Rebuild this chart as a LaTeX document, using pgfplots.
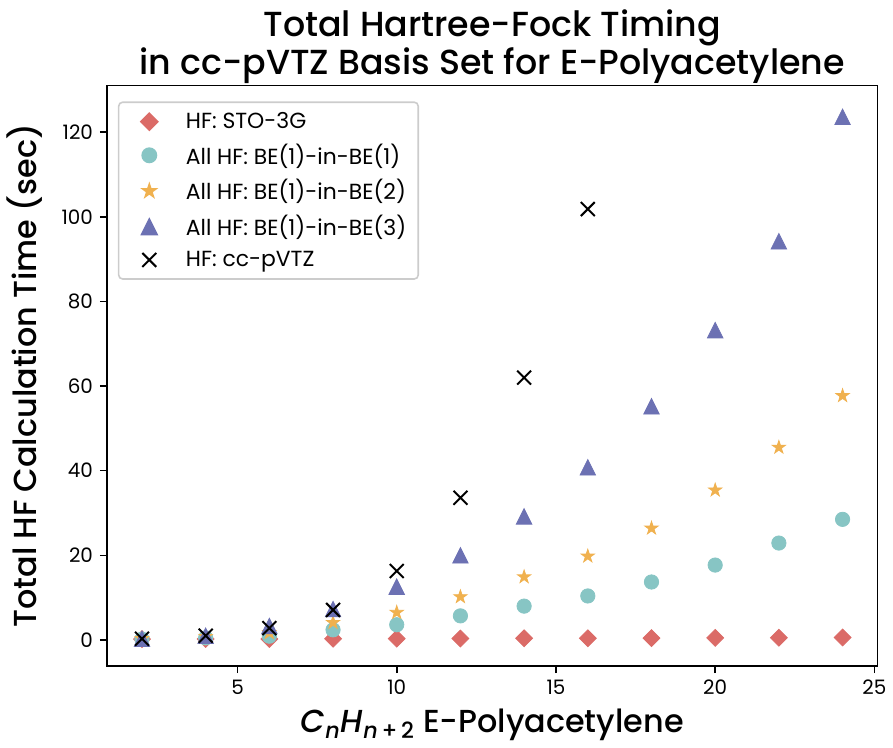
\documentclass[border=0pt]{standalone}
\usepackage{fontspec}
\setmainfont{Poppins}
\newfontfamily\medfont{Poppins Medium}
\usepackage{pgfplots}
\pgfplotsset{compat=1.18}
\definecolor{stoRed}{HTML}{DB6B67}
\definecolor{beOne}{HTML}{87C5C4}
\definecolor{beTwo}{HTML}{F0B14F}
\definecolor{beThree}{HTML}{6C71B3}

% matplotlib-like filled star and triangle
\pgfdeclareplotmark{mstar}{%
  \pgfpathmoveto{\pgfqpointpolar{90}{\pgfplotmarksize}}%
  \pgfpathlineto{\pgfqpointpolar{126}{0.382\pgfplotmarksize}}%
  \pgfpathlineto{\pgfqpointpolar{162}{\pgfplotmarksize}}%
  \pgfpathlineto{\pgfqpointpolar{198}{0.382\pgfplotmarksize}}%
  \pgfpathlineto{\pgfqpointpolar{234}{\pgfplotmarksize}}%
  \pgfpathlineto{\pgfqpointpolar{270}{0.382\pgfplotmarksize}}%
  \pgfpathlineto{\pgfqpointpolar{306}{\pgfplotmarksize}}%
  \pgfpathlineto{\pgfqpointpolar{342}{0.382\pgfplotmarksize}}%
  \pgfpathlineto{\pgfqpointpolar{18}{\pgfplotmarksize}}%
  \pgfpathlineto{\pgfqpointpolar{54}{0.382\pgfplotmarksize}}%
  \pgfpathclose\pgfusepathqfillstroke}
\pgfdeclareplotmark{mtri}{%
  \pgfpathmoveto{\pgfqpoint{0pt}{\pgfplotmarksize}}%
  \pgfpathlineto{\pgfqpoint{-\pgfplotmarksize}{-\pgfplotmarksize}}%
  \pgfpathlineto{\pgfqpoint{\pgfplotmarksize}{-\pgfplotmarksize}}%
  \pgfpathclose\pgfusepathqfillstroke}

% legend handle: mark 11pt in, text starting after 27pt
\pgfplotsset{mleg/.style={legend image code/.code={%
    \path (0pt,0pt) (27pt,0pt);
    \draw[mark repeat=2, mark phase=2, ##1] plot coordinates {(0pt,0pt) (11pt,0pt) (27pt,0pt)};}}}

\begin{document}
\begin{tikzpicture}
\begin{axis}[
    name=ax,
    scale only axis,
    width=387.5pt,
    height=292pt,
    xmin=0.9, xmax=25.1,
    ymin=-6.2, ymax=131,
    xtick={5,10,15,20,25},
    ytick={0,20,40,60,80,100,120},
    tick align=outside,
    tick pos=left,
    major tick length=3.5pt,
    tick style={black, line width=0.8pt},
    axis line style={line width=0.8pt},
    /pgf/number format/assume math mode=true,
    ticklabel style={font=\fontsize{10}{12}\selectfont},
    title={Total Hartree-Fock Timing\\ in cc-pVTZ Basis Set for E-Polyacetylene},
    title style={align=center, font=\medfont\fontsize{17.5}{17.5}\selectfont, at={(0.5,1)}, anchor=south, yshift=-8.5pt},
    xlabel={\textit{C}\textsubscript{\textit{n}}\textit{H}\textsubscript{\textit{n}\,+\,2} E-Polyacetylene},
    ylabel={Total HF Calculation Time (sec)},
    label style={font=\medfont\fontsize{16}{18}\selectfont},
    xlabel style={at={(0.5,0)}, anchor=base, yshift=-33.5pt},
    ylabel style={at={(0,0.5)}, anchor=base, yshift=35.5pt},
    legend style={at={(0.0142,0.9726)}, anchor=north west,
        font=\fontsize{11}{13}\selectfont,
        draw=black!20, line width=0.8pt, rounded corners=2pt,
        row sep=2.2pt, inner xsep=4pt, inner ysep=3pt},
    legend cell align=left,
]
% HF: STO-3G
\addplot[only marks, mleg, mark=square*, mark size=3pt, mark options={rotate=45, stoRed, draw=stoRed}] coordinates {
    (2,0.2)(4,0.25)(6,0.25)(8,0.3)(10,0.3)(12,0.35)(14,0.4)(16,0.4)(18,0.45)(20,0.5)(22,0.55)(24,0.6)
};
% All HF: BE(1)-in-BE(1)
\addplot[only marks, mleg, mark=*, mark size=3.6pt, mark options={beOne, draw=beOne}] coordinates {
    (2,0.2)(4,0.5)(6,0.9)(8,2.4)(10,3.6)(12,5.7)(14,8.0)(16,10.4)(18,13.7)(20,17.7)(22,22.9)(24,28.5)
};
% All HF: BE(1)-in-BE(2)
\addplot[only marks, mleg, mark=mstar, mark size=3.5pt, mark options={beTwo, fill=beTwo, draw=beTwo}] coordinates {
    (2,0.3)(4,0.8)(6,1.7)(8,4.1)(10,6.5)(12,10.2)(14,14.9)(16,19.8)(18,26.4)(20,35.4)(22,45.5)(24,57.7)
};
% All HF: BE(1)-in-BE(3)
\addplot[only marks, mleg, mark=mtri, mark size=3.9pt, mark options={beThree, fill=beThree, draw=beThree}] coordinates {
    (2,0.3)(4,1.0)(6,3.3)(8,7.3)(10,12.6)(12,20.0)(14,29.2)(16,40.8)(18,55.2)(20,73.2)(22,94.2)(24,123.6)
};
% HF: cc-pVTZ
\addplot[only marks, mleg, mark=x, mark size=4.95pt, mark options={black, line width=1pt}] coordinates {
    (2,0.3)(4,1.0)(6,2.8)(8,7.1)(10,16.3)(12,33.6)(14,62.0)(16,101.8)
};
\legend{HF: STO-3G, All HF: BE(1)-in-BE(1), All HF: BE(1)-in-BE(2), All HF: BE(1)-in-BE(3), HF: cc-pVTZ}
\end{axis}
\path (ax.south west) ++(-53pt,-38pt);
\path (ax.north east) ++(6pt,43pt);
\end{tikzpicture}
\end{document}
